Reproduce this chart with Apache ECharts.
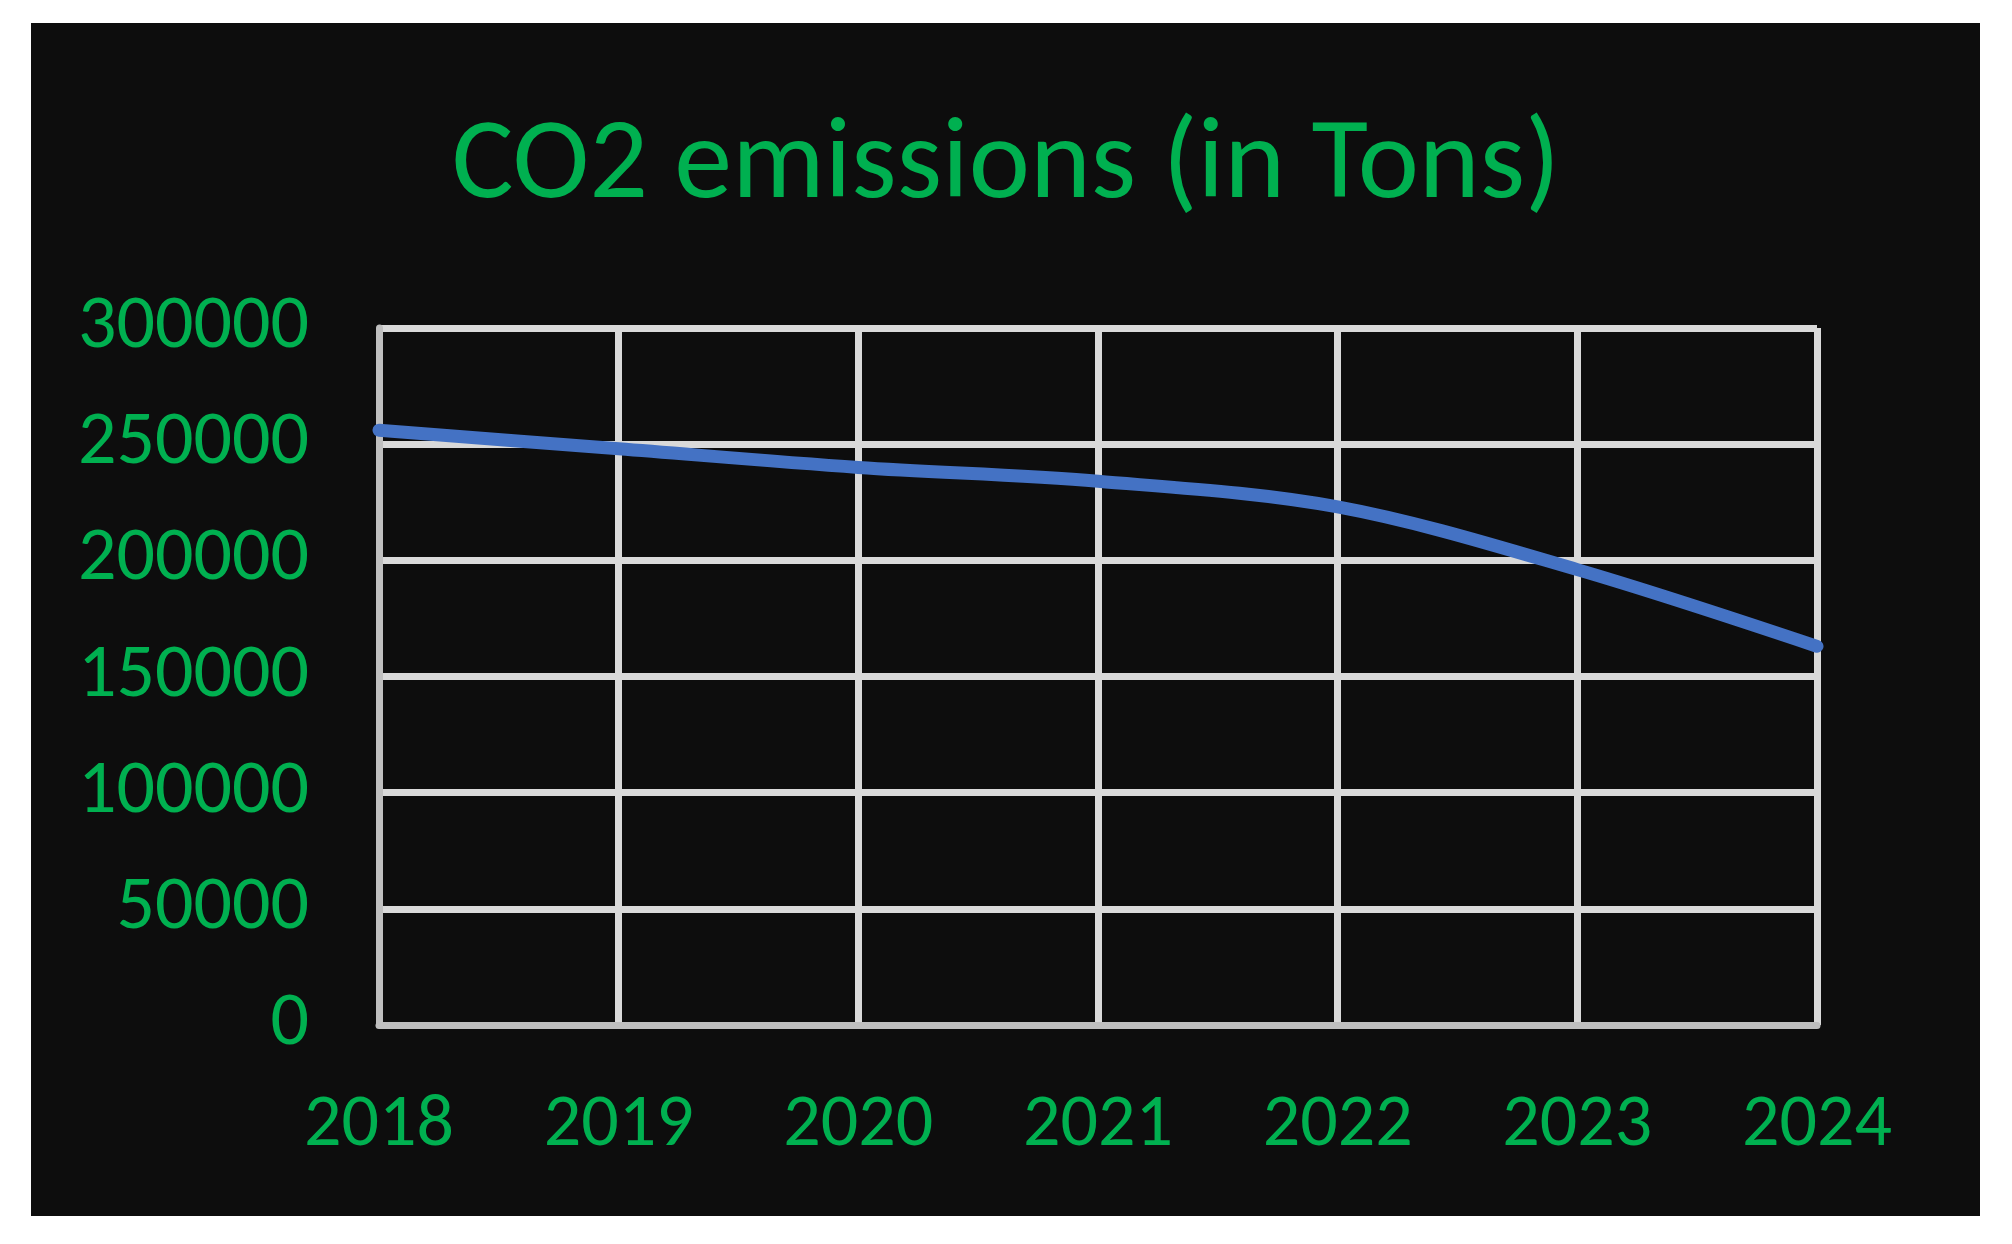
<!DOCTYPE html>
<html>
<head>
<meta charset="utf-8">
<script src="https://cdn.jsdelivr.net/npm/echarts@6/dist/echarts.min.js"></script>
<style>
  html, body { margin: 0; padding: 0; background: #ffffff; }
  #chart { width: 2012px; height: 1244px; }
</style>
</head>
<body>
<div id="chart"></div>
<script>
const titleText = 'CO2 emissions (in Tons)';
const years = ['2018', '2019', '2020', '2021', '2022', '2023', '2024'];
const emissions = [256000, 248000, 240000, 234000, 223000, 196000, 163000];
const yMin = 0;
const yMax = 300000;
const yInterval = 50000;

const FONT = 'Carlito, Lato, sans-serif';
const GREEN = '#00b050';

const chart = echarts.init(document.getElementById('chart'), null, { renderer: 'canvas' });
chart.setOption({
  backgroundColor: '#ffffff',
  animation: false,
  graphic: [{
    type: 'rect',
    z: -10,
    shape: { x: 31, y: 23, width: 1949, height: 1193 },
    style: { fill: '#0d0d0d' }
  }],
  title: {
    text: titleText,
    left: 'center',
    top: 105,
    textStyle: { color: GREEN, fontFamily: FONT, fontWeight: 'normal', fontSize: 116 }
  },
  grid: { left: 379, top: 328, width: 1438, height: 697, containLabel: false },
  xAxis: {
    type: 'category',
    data: years,
    boundaryGap: false,
    axisLine: { show: true, lineStyle: { color: '#bfbfbf', width: 7 } },
    axisTick: { show: false },
    splitLine: { show: true, lineStyle: { color: '#d9d9d9', width: 7 } },
    axisLabel: { color: GREEN, fontFamily: FONT, fontSize: 74, margin: 64 }
  },
  yAxis: {
    type: 'value',
    min: yMin,
    max: yMax,
    interval: yInterval,
    axisLine: { show: true, lineStyle: { color: '#bfbfbf', width: 7 } },
    axisTick: { show: false },
    splitLine: { show: true, lineStyle: { color: '#d9d9d9', width: 7 } },
    axisLabel: {
      color: GREEN, fontFamily: FONT, fontSize: 76, margin: 70,
      padding: [14, 0, 0, 0],
      formatter: function (v) { return String(v); }
    }
  },
  series: [{
    type: 'line',
    data: emissions,
    smooth: 0.33,
    symbol: 'none',
    lineStyle: { color: '#4472c4', width: 13, cap: 'round', join: 'round' },
    z: 5
  }]
});
</script>
</body>
</html>
